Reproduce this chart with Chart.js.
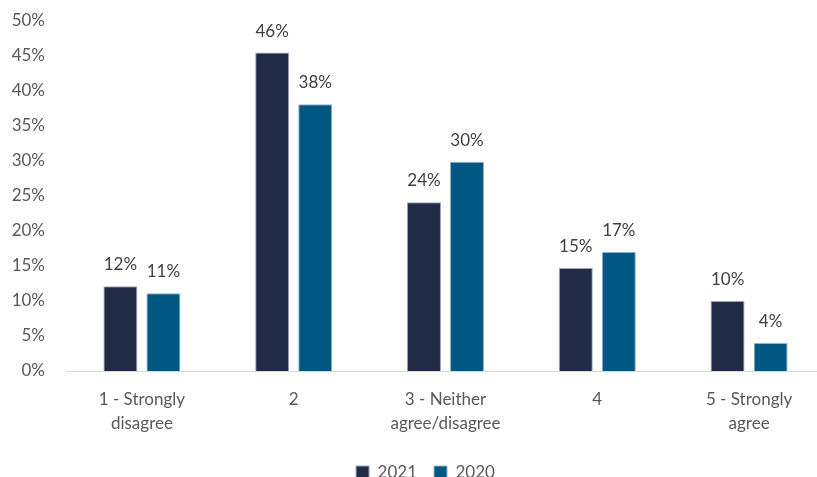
<!DOCTYPE html>
<html>
<head>
<meta charset="utf-8">
<script src="https://cdn.jsdelivr.net/npm/chart.js@4.4.1/dist/chart.umd.min.js"></script>
<style>
  html, body { margin: 0; padding: 0; background: #ffffff; overflow: hidden; width: 817px; height: 477px; }
  #wrap { position: absolute; left: 0; top: 0; width: 826px; height: 491px; }
</style>
</head>
<body>
<div id="wrap"><canvas id="c"></canvas></div>
<script>
const categories = [['1 - Strongly', 'disagree'], '2', ['3 - Neither', 'agree/disagree'], '4', ['5 - Strongly', 'agree']];
const seriesNames = ['2021', '2020'];
const values2021 = [12.1, 45.5, 24.1, 14.7, 10.0];
const values2020 = [11.1, 38.1, 29.9, 17.0, 4.0];
const yTicks = [0, 5, 10, 15, 20, 25, 30, 35, 40, 45, 50];

Chart.defaults.font.family = 'Lato, "Open Sans", sans-serif';

const barLabels = {
  id: 'barLabels',
  afterDatasetsDraw(chart) {
    const ctx = chart.ctx;
    ctx.save();
    ctx.fillStyle = '#404040';
    ctx.font = '17px Lato, "Open Sans", sans-serif';
    ctx.textAlign = 'center';
    ctx.textBaseline = 'alphabetic';
    chart.data.datasets.forEach((ds, i) => {
      const meta = chart.getDatasetMeta(i);
      meta.data.forEach((el, j) => {
        ctx.fillText(Math.round(ds.data[j]) + '%', el.x, el.y - 16);
      });
    });
    ctx.restore();
  }
};

const legendShift = {
  id: 'legendShift',
  afterLayout(chart) {
    const lg = chart.legend;
    if (lg) { lg.left += 8; lg.right += 8; }
  }
};

new Chart(document.getElementById('c'), {
  type: 'bar',
  data: {
    labels: categories,
    datasets: [
      { label: seriesNames[0], data: values2021, backgroundColor: '#212a46', borderColor: '#9aa6ba', borderWidth: 1, categoryPercentage: 0.567, barPercentage: 0.79 },
      { label: seriesNames[1], data: values2020, backgroundColor: '#005882', borderColor: '#8fb4cc', borderWidth: 1, categoryPercentage: 0.567, barPercentage: 0.79 }
    ]
  },
  options: {
    responsive: true,
    maintainAspectRatio: false,
    animation: false,
    layout: { padding: { top: 21, left: 10, right: 1, bottom: 0 } },
    plugins: {
      legend: {
        position: 'bottom',
        labels: {
          boxWidth: 13, boxHeight: 13, padding: 17,
          color: '#595959',
          font: { size: 17 }
        }
      },
      tooltip: { enabled: false }
    },
    scales: {
      x: {
        grid: { display: false, drawTicks: false },
        border: { display: true, color: '#d9d9d9', width: 1 },
        ticks: { color: '#595959', font: { size: 17, lineHeight: 1.4 }, padding: 17, maxRotation: 0, autoSkip: false },
        afterFit(s) { s.height = 76; }
      },
      y: {
        min: 0, max: 50,
        grid: { display: false, drawTicks: false },
        border: { display: false },
        afterBuildTicks(s) { s.ticks = yTicks.map(v => ({ value: v })); },
        ticks: { color: '#595959', font: { size: 17 }, padding: 21, callback: v => v + '%' },
        afterFit(s) { s.width = 56; s.paddingTop = 0; s.paddingBottom = 0; }
      }
    }
  },
  plugins: [barLabels, legendShift]
});
</script>
</body>
</html>
